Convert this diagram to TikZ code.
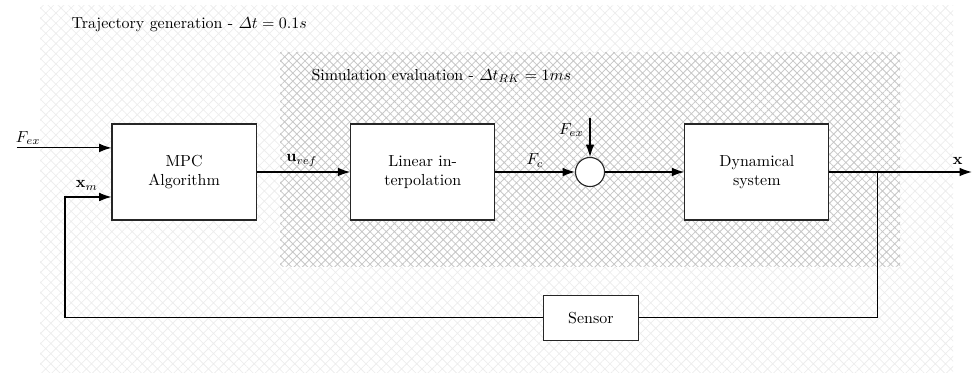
\documentclass[tikz,border=0pt]{standalone}
\usepackage{amsmath}
\usepackage{amssymb}
\usepackage{tikz}
\usetikzlibrary{patterns.meta}
\usetikzlibrary{shapes,positioning,calc}
\usetikzlibrary{arrows.meta}
\tikzstyle{blocco} = [rectangle, minimum width=3.17cm, minimum height=2.11cm, text centered, align=center, draw=black!85, line width=0.7pt, fill=white]
\tikzstyle{sommatore} = [circle, minimum size=0.64cm, inner sep=0pt, draw=black!85, line width=0.7pt, fill=white]
\tikzstyle{arrow} = [line width=0.7pt,-{Latex[length=2.7mm,width=1.9mm]}]
\tikzstyle{linea} = [line width=0.7pt]

\begin{document}
\begin{tikzpicture}
	\useasboundingbox (0,-4.444) rectangle (21.45,3.784);
	% zone
	\fill[pattern={Hatch[angle=45,distance=4.5pt,line width=0.5pt]}, pattern color=black!7] (0.88,-4.42) rectangle (20.97,3.67);
	\fill[white] (6.16,-2.09) rectangle (19.8,2.62);
	\fill[pattern={Hatch[angle=45,distance=3.6pt,line width=0.5pt]}, pattern color=black!22] (6.16,-2.09) rectangle (19.8,2.62);
	\node[right] (traj) at (1.45,3.23) {Trajectory generation - $\varDelta t = 0.1s$};
	\node[right] (sim) at (6.73,2.11) {Simulation evaluation - $\varDelta t_{RK} = 1ms$};
	% blocchi
	\node (mpc) at (4.05,0) [blocco] {MPC\\Algorithm};
	\node (interp) at (9.3,0) [blocco] {Linear in-\\terpolation};
	\node (somma) at (12.98,0) [sommatore] {};
	\node (dyn) at (16.65,0) [blocco] {Dynamical\\system};
	\node (sensor) at (13.0,-3.21) [blocco, minimum width=2.1cm, minimum height=1.0cm] {Sensor};
	\coordinate (fex) at (0.37,0.53);
	\coordinate (fexsum) at (12.98,1.19);
	\coordinate (branch) at (19.3,0);
	\coordinate (out) at (21.38,0);
	\coordinate (xm) at (1.43,-0.55);
	% collegamenti
	\draw[arrow] (fex) -- (fex -| mpc.west);
	\draw[arrow] (mpc) -- (interp);
	\draw[arrow] (interp) -- (somma);
	\draw[arrow] (fexsum) -- (somma);
	\draw[arrow] (somma) -- (dyn);
	\draw[arrow] (dyn) -- (out);
	\draw[linea] (branch) |- (sensor);
	\draw[arrow] (sensor) -| (xm) -- (xm -| mpc.west);
	% etichette
	\node (lfex) at (0.62,0.75) {$F_{ex}$};
	\node (lxm) at (1.91,-0.3) {$\mathbf{x}_m$};
	\node (luref) at (6.64,0.25) {$\mathbf{u}_{ref}$};
	\node (lfc) at (11.77,0.25) {$F_c$};
	\node (lfexs) at (12.57,0.92) {$F_{ex}$};
	\node (lx) at (21.07,0.25) {$\mathbf{x}$};
\end{tikzpicture}
\end{document}
